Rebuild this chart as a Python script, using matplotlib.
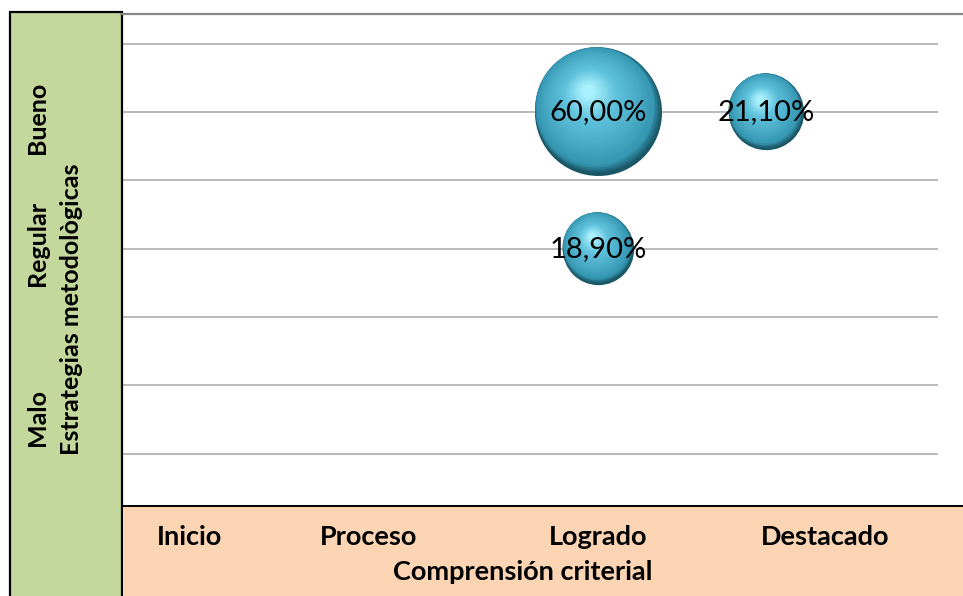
import matplotlib
matplotlib.use("Agg")
import matplotlib.pyplot as plt
import matplotlib.transforms as mtransforms
from matplotlib.colors import LinearSegmentedColormap
from matplotlib.patches import Rectangle
from matplotlib.lines import Line2D
import numpy as np

plt.rcParams['font.family'] = ['Lato', 'DejaVu Sans']

# datos
criterios = ['Inicio', 'Proceso', 'Logrado', 'Destacado']
niveles = ['Malo', 'Regular', 'Bueno']
burbuja_criterio = ['Logrado', 'Logrado', 'Destacado']
burbuja_nivel = ['Bueno', 'Regular', 'Bueno']
porcentajes = [60.00, 18.90, 21.10]

titulo_x = 'Comprensión criterial'
titulo_y = 'Estrategias metodològicas'

W, H = 963, 596


def px(x, y):
    """pixel (desde arriba-izquierda) -> fraccion de figura"""
    return x / W, 1 - y / H


fig = plt.figure(figsize=(W / 100, H / 100), dpi=100)
fig.patch.set_facecolor('white')

# area de trazado
x0, y0 = px(121, 506)
x1, y1 = px(938, 14)
ax = fig.add_axes([x0, y0, x1 - x0, y1 - y0])
ax.set_facecolor('none')
for s in ax.spines.values():
    s.set_visible(False)

xs = np.array([criterios.index(c) + 1 for c in burbuja_criterio], dtype=float)
ys = np.array([niveles.index(n) + 1 for n in burbuja_nivel], dtype=float)
vals = np.array(porcentajes)

ax.set_xlim(0.161, 5.024)
ax.set_ylim(0.116, 3.717)
ax.set_yticks(np.arange(0.5, 3.51, 0.5))
ax.set_xticks([])
ax.tick_params(left=False, labelleft=False)
ax.yaxis.grid(True, color='#a6a6a6', linewidth=1.1)
ax.set_axisbelow(True)

# burbujas con efecto esfera
esfera = LinearSegmentedColormap.from_list(
    'esfera', [(0.0, '#1a5868'), (0.07, '#3596b2'), (0.30, '#49aac6'),
               (0.65, '#5fc2dc'), (1.0, '#a8f0fc')])
k = 139.4  # area en pt^2 por punto porcentual
n_capas = 50
for x, y, v in zip(xs, ys, vals):
    s = v * k
    r = np.sqrt(s) / 2
    for i in range(n_capas):
        t = i / (n_capas - 1)
        size = s * (1 - 0.9 * t) ** 2
        dx, dy = -0.16 * r * np.sqrt(t), 0.34 * r * np.sqrt(t)
        tr = ax.transData + mtransforms.ScaledTranslation(dx / 72, dy / 72, fig.dpi_scale_trans)
        ax.scatter([x], [y], s=size, color=esfera(t), linewidths=0,
                   transform=tr, zorder=3 + i * 0.01, clip_on=False)
    etiqueta = f"{v:.2f}%".replace('.', ',')
    ax.text(x, y, etiqueta, ha='center', va='center', fontsize=21,
            color='black', zorder=10)

# linea superior
fig.add_artist(Line2D([px(121, 0)[0], 1.0], [px(0, 14)[1]] * 2,
                      color='#868686', linewidth=1.6))

# panel verde (eje Y)
gx0, gy0 = px(10, 600)
gx1, gy1 = px(122, 12)
fig.add_artist(Rectangle((gx0, gy0), gx1 - gx0, gy1 - gy0, transform=fig.transFigure,
                         facecolor='#c4d79c', edgecolor='black', linewidth=1.6))

# panel durazno (eje X)
px0, py0 = px(122, 600)
px1, py1 = px(970, 506)
fig.add_artist(Rectangle((px0, py0), px1 - px0, py1 - py0, transform=fig.transFigure,
                         facecolor='#fbd4b4', edgecolor='black', linewidth=1.4))

# etiquetas de categorias en X
cat_px = [189, 369, 598, 825]
for c, cx in zip(criterios, cat_px):
    fig.text(*px(cx, 537), c, ha='center', va='center', fontsize=19.5, fontweight='bold')
fig.text(*px(523, 572), titulo_x, ha='center', va='center', fontsize=19.5, fontweight='bold')

# etiquetas de niveles en Y
niv_py = [418, 243, 118]
for n, ny in zip(niveles, niv_py):
    fig.text(*px(37, ny), n, ha='center', va='center', rotation=90,
             fontsize=18, fontweight='bold')
fig.text(*px(72, 309), titulo_y, ha='center', va='center', rotation=90,
         fontsize=18, fontweight='bold')

fig.savefig('out.png', dpi=100)
